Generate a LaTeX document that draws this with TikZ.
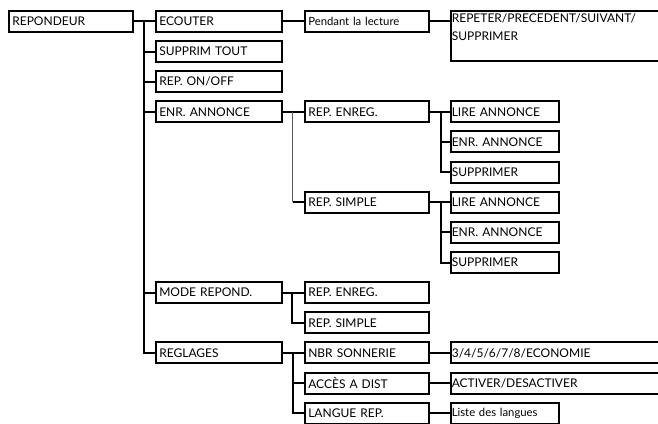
\documentclass[tikz,border=0pt]{standalone}
\usepackage{fontspec}
\setmainfont{Lato}
\newcommand\menufont{\fontsize{12}{18}\selectfont}
\newcommand\notefont{\fontsize{11.3}{18}\selectfont}
\tikzset{
  box/.style={draw, line width=2pt, anchor=north west, align=left,
    minimum height=21pt, inner ysep=0pt, inner xsep=3.5pt, font=\menufont},
  colA/.style={box, text width=117pt},
  colB/.style={box, text width=119pt},
  colC/.style={box, text width=117pt},
  colD/.style={box, inner xsep=1pt, text width=106pt},
  colE/.style={box, inner xsep=1pt, text width=230pt},
  link/.style={line width=2pt},
  finelink/.style={line width=0.9pt, black!65},
}
\begin{document}
\begin{tikzpicture}[x=1pt, y=-1pt]
    \useasboundingbox (0,0) rectangle (658,423);
    \clip (0,0) rectangle (658,423);
    % first column
    \node[colA] (rep) at (7.8,9.8) {REPONDEUR};
    % second column
    \node[colB] (ecouter) at (154.8,9.8) {ECOUTER};
    \node[colB] (supprim) at (154.8,40) {SUPPRIM TOUT};
    \node[colB] (onoff) at (154.8,70.1) {REP. ON/OFF};
    \node[colB] (enrann) at (154.8,100.2) {ENR. ANNONCE};
    \node[colB] (mode) at (154.8,281.1) {MODE REPOND.};
    \node[colB] (reglages) at (154.8,341.4) {REGLAGES};
    % third column
    \node[colC, font=\notefont] (pendant) at (303.8,9.8) {Pendant la lecture};
    \node[colC] (repenreg) at (303.8,100.2) {REP. ENREG.};
    \node[colC] (repsimple) at (303.8,190.7) {REP. SIMPLE};
    \node[colC] (modeenreg) at (303.8,281.1) {REP. ENREG.};
    \node[colC] (modesimple) at (303.8,311.3) {REP. SIMPLE};
    \node[colC] (nbr) at (303.8,341.4) {NBR SONNERIE};
    \node[colC] (acces) at (303.8,371.6) {ACCÈS A DIST};
    \node[colC] (langue) at (303.8,401.7) {LANGUE REP.};
    % fourth column
    \node[colE, minimum height=50.4pt] (repeter) at (449.8,9.8)
        {REPETER/PRECEDENT/SUIVANT/\\SUPPRIMER\\\mbox{}};
    \node[colD] (lireA) at (449.8,100.2) {LIRE ANNONCE};
    \node[colD] (enrA) at (449.8,130.4) {ENR. ANNONCE};
    \node[colD] (suppA) at (449.8,160.5) {SUPPRIMER};
    \node[colD] (lireB) at (449.8,190.7) {LIRE ANNONCE};
    \node[colD] (enrB) at (449.8,220.8) {ENR. ANNONCE};
    \node[colD] (suppB) at (449.8,251) {SUPPRIMER};
    \node[colE] (eco) at (449.8,341.4) {3/4/5/6/7/8/ECONOMIE};
    \node[colE] (activer) at (449.8,371.6) {ACTIVER/DESACTIVER};
    \node[colD, font=\notefont] (langues) at (449.8,401.7) {Liste des langues};

    % connectors
    \draw[link] (rep.east) -- (ecouter.west);
    \draw[link] (rep.east) ++(9.7,0) coordinate (tA) |- (reglages.west);
    \foreach \n in {supprim,onoff,enrann,mode}
        \draw[link] (tA |- \n.west) -- (\n.west);
    \draw[link] (ecouter.east) -- (pendant.west);
    \draw[link] (pendant.east) -- (pendant.east -| repeter.west);

    \draw[link] (enrann.east) -- (repenreg.west);
    \draw[finelink] (enrann.east) ++(10,0) coordinate (tB) -- (tB |- repsimple.west);
    \draw[link] (tB |- repsimple.west) -- (repsimple.west);

    \draw[link] (repenreg.east) -- (lireA.west);
    \draw[link] (repenreg.east) ++(11,0) coordinate (tC) |- (suppA.west);
    \draw[link] (tC |- enrA.west) -- (enrA.west);
    \draw[link] (repsimple.east) -- (lireB.west);
    \draw[link] (repsimple.east) ++(11,0) coordinate (tD) |- (suppB.west);
    \draw[link] (tD |- enrB.west) -- (enrB.west);

    \draw[link] (mode.east) -- (modeenreg.west);
    \draw[link] (mode.east) ++(9.5,0) |- (modesimple.west);

    \draw[link] (reglages.east) -- (nbr.west);
    \draw[link] (reglages.east) ++(10,0) coordinate (tE) |- (langue.west);
    \draw[link] (tE |- acces.west) -- (acces.west);
    \draw[link] (nbr.east) -- (eco.west);
    \draw[link] (acces.east) -- (activer.west);
    \draw[link] (langue.east) -- (langues.west);
\end{tikzpicture}
\end{document}
